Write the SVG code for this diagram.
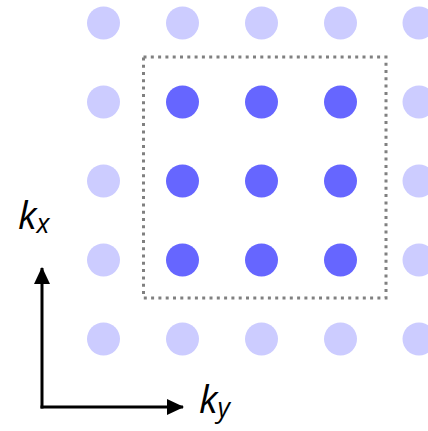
<svg xmlns="http://www.w3.org/2000/svg" width="428" height="431" viewBox="0 0 428 431">
<style>
.l{fill:#ccccff}
.d{fill:#6666ff}
.ax{stroke:#000;stroke-width:3;fill:none}
.lab{font-family:"Open Sans","DejaVu Sans",sans-serif;font-style:italic;fill:#000}
</style>
<defs>
<marker id="ah" viewBox="0 0 17 16" refX="16" refY="8" markerWidth="17" markerHeight="16" markerUnits="userSpaceOnUse" orient="auto">
<path d="M0,0 L17,8 L0,16 Z" fill="#000"/>
</marker>
</defs>
<rect width="428" height="431" fill="#fff"/>
<g id="light-dots">
<circle class="l" cx="103.5" cy="23" r="16.5"/><circle class="l" cx="182.5" cy="23" r="16.5"/><circle class="l" cx="261.5" cy="23" r="16.5"/><circle class="l" cx="340.5" cy="23" r="16.5"/><circle class="l" cx="419" cy="23" r="16.5"/>
<circle class="l" cx="103.5" cy="102" r="16.5"/><circle class="l" cx="419" cy="102" r="16.5"/>
<circle class="l" cx="103.5" cy="181" r="16.5"/><circle class="l" cx="419" cy="181" r="16.5"/>
<circle class="l" cx="103.5" cy="260" r="16.5"/><circle class="l" cx="419" cy="260" r="16.5"/>
<circle class="l" cx="103.5" cy="339" r="16.5"/><circle class="l" cx="182.5" cy="339" r="16.5"/><circle class="l" cx="261.5" cy="339" r="16.5"/><circle class="l" cx="340.5" cy="339" r="16.5"/><circle class="l" cx="419" cy="339" r="16.5"/>
</g>
<g id="dark-dots">
<circle class="d" cx="182.5" cy="102" r="16.5"/><circle class="d" cx="261.5" cy="102" r="16.5"/><circle class="d" cx="340.5" cy="102" r="16.5"/>
<circle class="d" cx="182.5" cy="181" r="16.5"/><circle class="d" cx="261.5" cy="181" r="16.5"/><circle class="d" cx="340.5" cy="181" r="16.5"/>
<circle class="d" cx="182.5" cy="260" r="16.5"/><circle class="d" cx="261.5" cy="260" r="16.5"/><circle class="d" cx="340.5" cy="260" r="16.5"/>
</g>
<g id="box">
<rect x="143.5" y="57" width="242.5" height="241" fill="none" stroke="#808080" stroke-width="3" stroke-dasharray="3,4.3"/>
</g>
<g id="connectors">
<line class="ax" x1="42" y1="408.5" x2="42" y2="268" marker-end="url(#ah)"/>
<line class="ax" x1="40.5" y1="407" x2="183" y2="407" marker-end="url(#ah)"/>
</g>
<g id="label-kx">
<text class="lab" x="18" y="229" font-size="38">k<tspan font-size="27" dy="4">x</tspan></text>
</g>
<g id="label-ky">
<text class="lab" x="199" y="413" font-size="38">k<tspan font-size="27" dy="4">y</tspan></text>
</g>
</svg>
